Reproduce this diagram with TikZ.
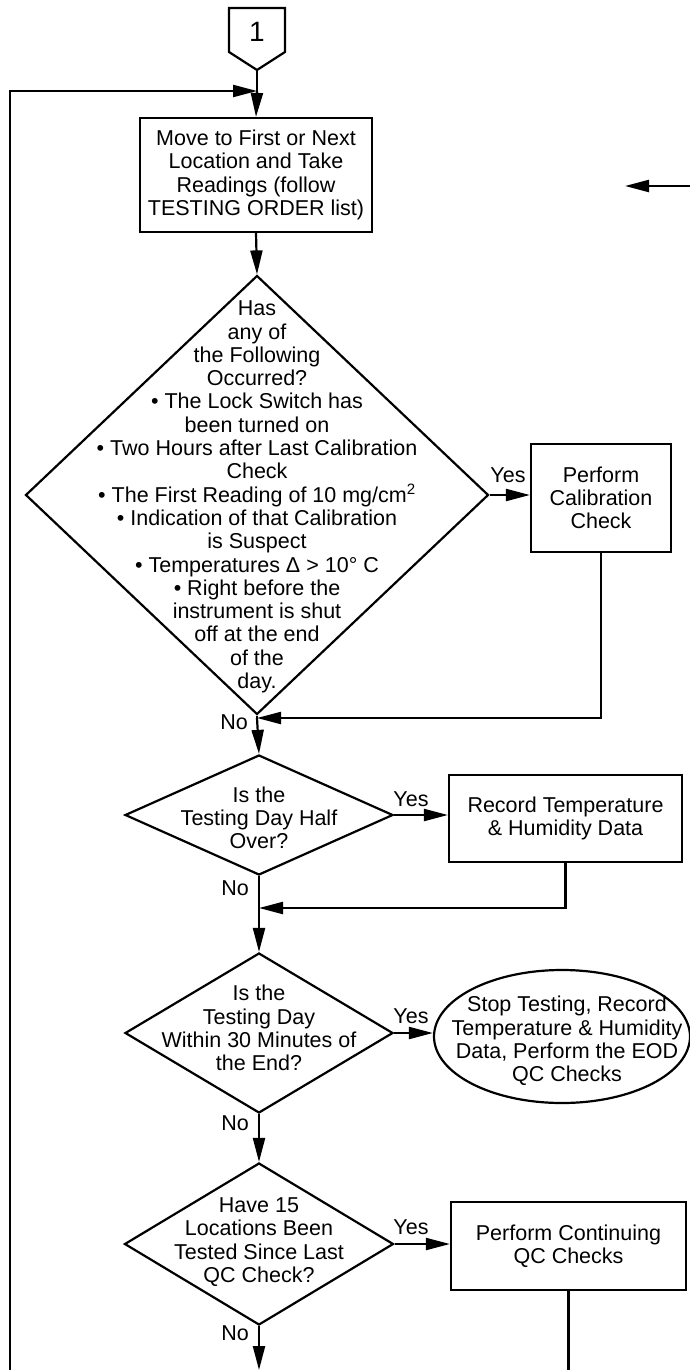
\documentclass[tikz,border=0pt]{standalone}
\usepackage{fontspec}
\setmainfont{Liberation Sans}
\usetikzlibrary{arrows.meta,shapes.geometric}
\newcommand\fs{\fontsize{21.5}{23.3}\selectfont}
\tikzset{
  ln/.style={line width=2.2pt},
  arr/.style={ln,-{Triangle[length=24pt,width=12pt]}},
  box/.style={draw,ln,inner sep=0pt,align=center,font=\fs},
  dia/.style={draw,ln,diamond,inner sep=0pt},
  txt/.style={align=center,font=\fs,inner sep=0pt},
  lbl/.style={font=\fs,inner sep=0pt},
}
\begin{document}
\begin{tikzpicture}[x=1pt,y=-1pt]
\useasboundingbox (0,0) rectangle (690,1370);
% connector 1
\coordinate (c1tip) at (257,70);
\draw[ln] (229,8) -- (285,8) -- (285,52) -- (c1tip) -- (229,52) -- cycle;
\node[font=\fontsize{28}{30}\selectfont,inner sep=0pt] (c1) at (257,32) {1};
\coordinate (j0) at (257,91);
% box 1
\node[box,minimum width=232,minimum height=114] (b1) at (256,175)
  {Move to First or Next\\Location and Take\\Readings (follow\\TESTING ORDER list)};
% stray arrow top right
\coordinate (sr) at (690,186);
\coordinate (sl) at (625,186);
\draw[arr] (sr) -- (sl);
% diamond 1
\node[dia,minimum width=463,minimum height=439] (d1) at (257,495) {};
\node[txt] (d1t) at (257,497) {Has\\any of\\the Following\\Occurred?\\%
  • The Lock Switch has\\been turned on\\• Two Hours after Last Calibration\\Check\\%
  • The First Reading of 10 mg/cm\textsuperscript{2}\\• Indication of that Calibration\\is Suspect\\%
  • Temperatures Δ > 10° C\\• Right before the\\instrument is shut\\off at the end\\of the\\day.};
\node[box,minimum width=140,minimum height=108] (pc) at (601,498) {Perform\\Calibration\\Check};
\coordinate (j1) at (257,718);
% diamond 2
\node[dia,minimum width=268,minimum height=120] (d2) at (259,815) {};
\node[txt] (d2t) at (259,818) {Is the\\Testing Day Half\\Over?};
\node[box,minimum width=233,minimum height=87] (rec) at (565.5,818.5) {Record Temperature\\\& Humidity Data};
\coordinate (j2) at (259,908);
% diamond 3
\node[dia,minimum width=268,minimum height=160] (d3) at (259,1033) {};
\node[txt] (d3t) at (259,1028) {Is the\\Testing Day\\Within 30 Minutes of\\the End?};
\node[draw,ln,ellipse,minimum width=256,minimum height=133,inner sep=0pt] (ell) at (562,1036.5) {};
\node[txt] (ellt) at (567,1041) {Stop Testing, Record\\Temperature \& Humidity\\Data, Perform the EOD\\QC Checks};
% diamond 4
\node[dia,minimum width=269,minimum height=162] (d4) at (259,1244) {};
\node[txt] (d4t) at (259,1242) {Have 15\\Locations Been\\Tested Since Last\\QC Check?};
\node[box,minimum width=235,minimum height=88] (qc) at (568.5,1246) {Perform Continuing\\QC Checks};
\coordinate (bot) at (259,1370);
\coordinate (qcbot) at (568.5,1370);
\coordinate (lb) at (10,1370);
% connectors
\draw[ln] (c1tip) -- (j0);
\draw[arr] (j0) -- (b1.north);
\draw[arr] (lb) |- (j0);
\draw[arr] (b1.south) -- (d1.north);
\draw[arr] (d1.east) -- (d1.east -| pc.west);
\draw[arr] (pc.south) |- (j1);
\draw[ln] (d1.south) -- (j1);
\draw[arr] (j1) -- (d2.north);
\draw[arr] (d2.east) -- (d2.east -| rec.west);
\draw[arr] (rec.south) |- (j2);
\draw[ln] (d2.south) -- (j2);
\draw[arr] (j2) -- (d3.north);
\draw[arr] (d3.east) -- (d3.east -| ell.west);
\draw[arr] (d3.south) -- (d4.north);
\draw[arr] (d4.east) -- (d4.east -| qc.west);
\draw[arr] (d4.south) -- (bot);
\draw[ln] (qc.south) -- (qcbot);
% labels
\node[lbl] (y1) at (508,475) {Yes};
\node[lbl] (n1) at (234,722) {No};
\node[lbl] (y2) at (411,799) {Yes};
\node[lbl] (n2) at (235,888) {No};
\node[lbl] (y3) at (411,1016) {Yes};
\node[lbl] (n3) at (235,1123) {No};
\node[lbl] (y4) at (411,1227) {Yes};
\node[lbl] (n4) at (235,1333) {No};
\end{tikzpicture}
\end{document}
